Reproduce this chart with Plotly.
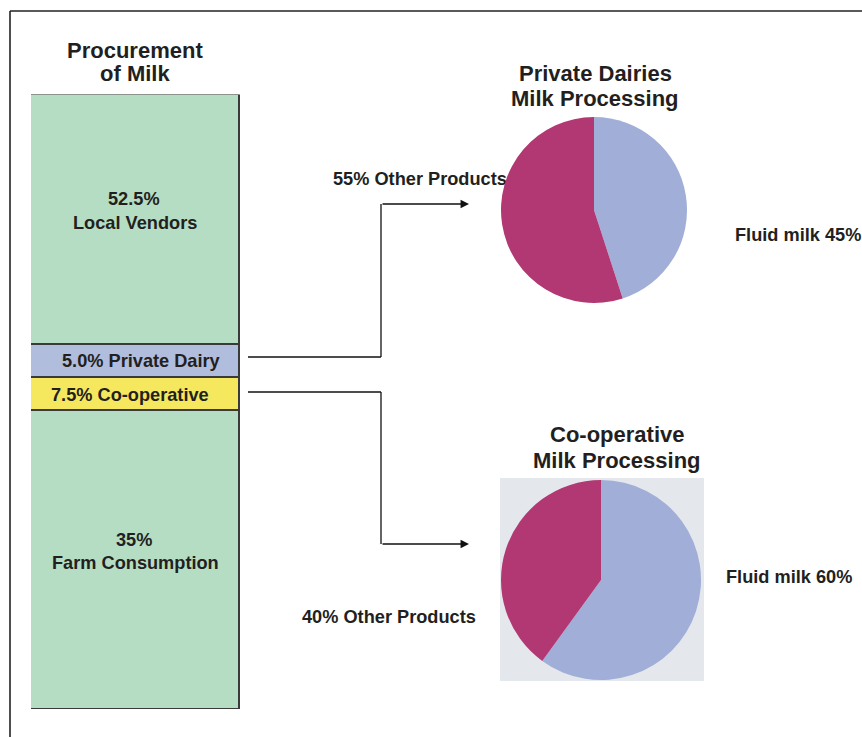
import plotly.graph_objects as go

W, H = 862, 737

# ---- data ----
proc_categories = ["Farm Consumption", "Co-operative", "Private Dairy", "Local Vendors"]
proc_share_labels = ["35%", "7.5%", "5.0%", "52.5%"]
# segment heights as drawn in the source graphic (share of bar height, %)
proc_drawn_share = [48.6, 5.4, 5.3, 40.7]
proc_colors = ["#b5ddc4", "#f6e85e", "#b1bddd", "#b5ddc4"]

pie_labels = ["Fluid milk", "Other Products"]
private_values = [45, 55]
coop_values = [60, 40]
pie_colors = ["#a0aed8", "#b13872"]

TXT = "#231f20"
FONT = "Liberation Sans"
LBL = 18.2


def px(x):
    return x / W


def py(y):
    return 1 - y / H


fig = go.Figure()

# stacked procurement bar
for cat, h, col in zip(proc_categories, proc_drawn_share, proc_colors):
    fig.add_trace(go.Bar(
        x=[0], y=[h], width=[1], name=cat,
        marker=dict(color=col, line=dict(color="#3a3a3a", width=1.6)),
        hoverinfo="name", showlegend=False, xaxis="x", yaxis="y",
    ))

# label partly hidden behind the first pie (drawn on an overlay axis below the pie layer)
fig.add_trace(go.Scatter(
    x=[333], y=[180], mode="text", text=["55% " + pie_labels[1]],
    textposition="middle right",
    textfont=dict(family=FONT, size=LBL, color=TXT, weight="bold"),
    hoverinfo="skip", showlegend=False, xaxis="x2", yaxis="y2",
))

# pies
fig.add_trace(go.Pie(
    labels=pie_labels, values=private_values, sort=False, direction="clockwise",
    rotation=0, marker=dict(colors=pie_colors, line=dict(width=0)),
    textinfo="none", hoverinfo="label+percent", showlegend=False,
    domain=dict(x=[px(501), px(687)], y=[py(303), py(117)]),
))
fig.add_trace(go.Pie(
    labels=pie_labels, values=coop_values, sort=False, direction="clockwise",
    rotation=0, marker=dict(colors=pie_colors, line=dict(width=0)),
    textinfo="none", hoverinfo="label+percent", showlegend=False,
    domain=dict(x=[px(501), px(701)], y=[py(680), py(480)]),
))

shapes = []
# frame lines
shapes.append(dict(type="line", xref="paper", yref="paper", x0=px(10), y0=py(11), x1=1, y1=py(11),
                   line=dict(color="#222", width=1.6), layer="above"))
shapes.append(dict(type="line", xref="paper", yref="paper", x0=px(10), y0=py(11), x1=px(10), y1=0,
                   line=dict(color="#222", width=1.6), layer="above"))
# grey panel behind co-operative pie
shapes.append(dict(type="rect", xref="paper", yref="paper", x0=px(500), y0=py(681), x1=px(704), y1=py(478),
                   fillcolor="#e4e8ec", line=dict(width=0), layer="below"))
# connector lines
for (x0, y0, x1, y1) in [(248, 357, 381, 357), (381, 357, 381, 204),
                          (248, 392, 381, 392), (381, 392, 381, 544)]:
    shapes.append(dict(type="line", xref="paper", yref="paper", x0=px(x0), y0=py(y0), x1=px(x1), y1=py(y1),
                       line=dict(color="#111", width=1.3), layer="above"))

annotations = []
for ty in (204, 544):
    annotations.append(dict(x=px(469), y=py(ty), xref="paper", yref="paper", ax=-88, ay=0,
                            text="", showarrow=True, arrowhead=2, arrowsize=1.3, arrowwidth=1.3,
                            arrowcolor="#111"))


def label(text, x, y, size=LBL, anchor="center"):
    annotations.append(dict(x=px(x), y=py(y), xref="paper", yref="paper", text=text,
                            showarrow=False, xanchor=anchor, yanchor="middle",
                            font=dict(family=FONT, size=size, color=TXT, weight="bold")))


# bar segment labels
lab = dict(zip(proc_categories, proc_share_labels))
label(lab["Local Vendors"], 134, 199)
label("Local Vendors", 135, 223)
label(lab["Private Dairy"] + " Private Dairy", 141, 361)
label(lab["Co-operative"] + " Co-operative", 130, 395)
label(lab["Farm Consumption"], 134, 540)
label("Farm Consumption", 135, 563)

label("Procurement", 135, 50, 22)
label("of Milk", 135, 74, 22)
label("Private Dairies", 595, 73, 22)
label("Milk Processing", 595, 98, 22)
label("Co-operative", 617, 434, 22)
label("Milk Processing", 617, 460, 22)
label("Fluid milk " + str(private_values[0]) + "%", 733, 235, anchor="left")
label("Fluid milk " + str(coop_values[0]) + "%", 724, 577, anchor="left")
label(str(coop_values[1]) + "% " + pie_labels[1], 300, 617, anchor="left")

total = sum(proc_drawn_share)
fig.update_layout(
    width=W, height=H, margin=dict(l=0, r=0, t=0, b=0),
    paper_bgcolor="white", plot_bgcolor="rgba(0,0,0,0)",
    barmode="stack", bargap=0,
    xaxis=dict(domain=[px(31), px(240)], range=[-0.5, 0.5], visible=False, fixedrange=True),
    yaxis=dict(domain=[py(709), py(94.5)], range=[0, total], visible=False, fixedrange=True),
    xaxis2=dict(domain=[0, 1], range=[0, W], visible=False, anchor="y2", fixedrange=True),
    yaxis2=dict(domain=[0, 1], range=[H, 0], visible=False, anchor="x2", fixedrange=True),
    shapes=shapes, annotations=annotations,
)

fig.write_html("out.html", config={"displayModeBar": False},
               post_script="document.body.style.margin='0';document.body.style.overflow='hidden';")
